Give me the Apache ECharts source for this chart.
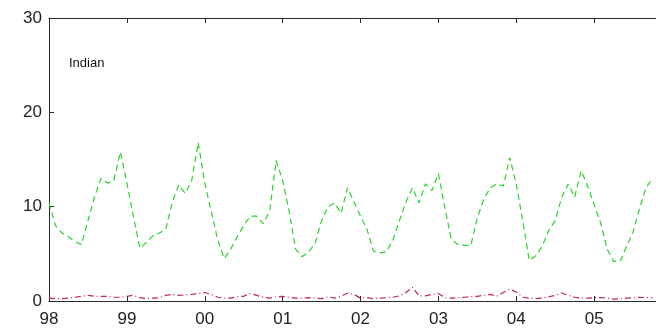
<!DOCTYPE html>
<html>
<head>
<meta charset="utf-8">
<script src="https://cdn.jsdelivr.net/npm/echarts@6/dist/echarts.min.js"></script>
<style>
  html, body { margin: 0; padding: 0; background: #fff; overflow: hidden; }
  #chart { width: 656px; height: 336px; }
</style>
</head>
<body>
<div id="chart"></div>
<script>
// Monthly series starting January 1998
const startYear = 1998;
const seriesName = 'Indian';
const greenValues = [
  10.4, 8.0, 7.2, 6.8, 6.3, 6.0, 8.5, 11.0, 13.0, 12.5, 12.8, 15.8,
  12.5, 9.0, 5.6, 6.2, 6.9, 7.2, 7.6, 10.5, 12.3, 11.4, 12.8, 16.8,
  12.5, 9.5, 6.5, 4.5, 5.5, 6.8, 8.0, 9.0, 9.0, 8.2, 9.5, 14.9,
  12.8, 9.5, 5.5, 4.7, 5.2, 6.1, 8.5, 10.0, 10.4, 9.3, 12.0, 10.5,
  9.0, 7.6, 5.3, 5.1, 5.2, 6.5, 8.5, 10.5, 12.0, 10.4, 12.4, 11.7,
  13.5, 9.9, 6.5, 6.0, 5.9, 5.9, 8.8, 10.8, 12.0, 12.4, 12.2, 15.2,
  12.4, 8.5, 4.3, 4.8, 5.8, 7.5, 8.5, 11.0, 12.4, 11.0, 13.8, 12.2,
  10.2, 8.3, 5.5, 4.2, 4.2, 5.8, 7.3, 9.8, 12.0, 13.0
];
const redValues = [
  0.3, 0.25, 0.25, 0.3, 0.4, 0.5, 0.6, 0.5, 0.5, 0.5, 0.4, 0.4,
  0.5, 0.6, 0.35, 0.25, 0.3, 0.35, 0.6, 0.7, 0.6, 0.65, 0.7, 0.8,
  0.9, 0.7, 0.4, 0.3, 0.3, 0.45, 0.5, 0.8, 0.6, 0.4, 0.3, 0.45,
  0.5, 0.4, 0.3, 0.3, 0.35, 0.3, 0.25, 0.45, 0.3, 0.5, 0.85, 0.7,
  0.3, 0.35, 0.25, 0.3, 0.35, 0.4, 0.55, 0.9, 1.45, 0.55, 0.55, 0.7,
  0.8, 0.35, 0.3, 0.35, 0.4, 0.45, 0.5, 0.6, 0.7, 0.5, 0.9, 1.25,
  0.95, 0.4, 0.3, 0.25, 0.3, 0.45, 0.6, 0.85, 0.6, 0.4, 0.3, 0.3,
  0.35, 0.35, 0.3, 0.2, 0.25, 0.3, 0.35, 0.4, 0.35, 0.35
];
const yearTicks = [1998, 1999, 2000, 2001, 2002, 2003, 2004, 2005, 2006];
const yearLabels = ['98', '99', '00', '01', '02', '03', '04', '05', '06'];
const yTicks = [0, 10, 20, 30];

const toPairs = vals => vals.map((v, i) => [startYear + i / 12, v]);

const axisColor = '#2a2a2a';
const labelFont = { fontFamily: 'Liberation Sans', fontSize: 17, color: '#222' };

const chart = echarts.init(document.getElementById('chart'), null, { renderer: 'canvas' });
chart.setOption({
  animation: false,
  backgroundColor: '#fff',
  title: {
    text: seriesName,
    left: 64,
    top: 52,
    textStyle: { fontFamily: 'Liberation Sans', fontSize: 13, fontWeight: 'normal', color: '#111' }
  },
  // the plot box runs on past the right edge of the canvas
  grid: {
    left: 49, top: 18, height: 283, width: 623,
    containLabel: false, outerBoundsMode: 'none'
  },
  xAxis: [
    {
      type: 'value', position: 'bottom',
      min: yearTicks[0], max: yearTicks[yearTicks.length - 1], interval: 1,
      axisLine: { show: true, lineStyle: { color: axisColor, width: 1 } },
      axisTick: { show: true, inside: true, length: 5, lineStyle: { color: axisColor } },
      axisLabel: {
        ...labelFont, margin: 10, showMaxLabel: true,
        formatter: v => yearLabels[yearTicks.indexOf(Math.round(v))] || ''
      },
      splitLine: { show: false }
    },
    {
      type: 'value', position: 'top',
      min: yearTicks[0], max: yearTicks[yearTicks.length - 1], interval: 1,
      axisLine: { show: true, lineStyle: { color: axisColor, width: 1 } },
      axisTick: { show: true, inside: true, length: 5, lineStyle: { color: axisColor } },
      axisLabel: { show: false },
      splitLine: { show: false }
    }
  ],
  yAxis: {
    type: 'value', min: yTicks[0], max: yTicks[yTicks.length - 1], interval: 10,
    axisLine: { show: true, lineStyle: { color: axisColor, width: 1 } },
    axisTick: { show: true, inside: true, length: 5, lineStyle: { color: axisColor } },
    axisLabel: { ...labelFont, margin: 7 },
    splitLine: { show: false }
  },
  series: [
    {
      type: 'line', xAxisIndex: 0, data: toPairs(greenValues),
      symbol: 'none', clip: true,
      lineStyle: { color: '#2ad42a', width: 1.2, type: [6, 4] }
    },
    {
      type: 'line', xAxisIndex: 0, data: toPairs(redValues),
      symbol: 'none', clip: true,
      lineStyle: { color: '#c8264a', width: 1.2, type: [6, 3, 1, 3] }
    }
  ]
});
</script>
</body>
</html>
